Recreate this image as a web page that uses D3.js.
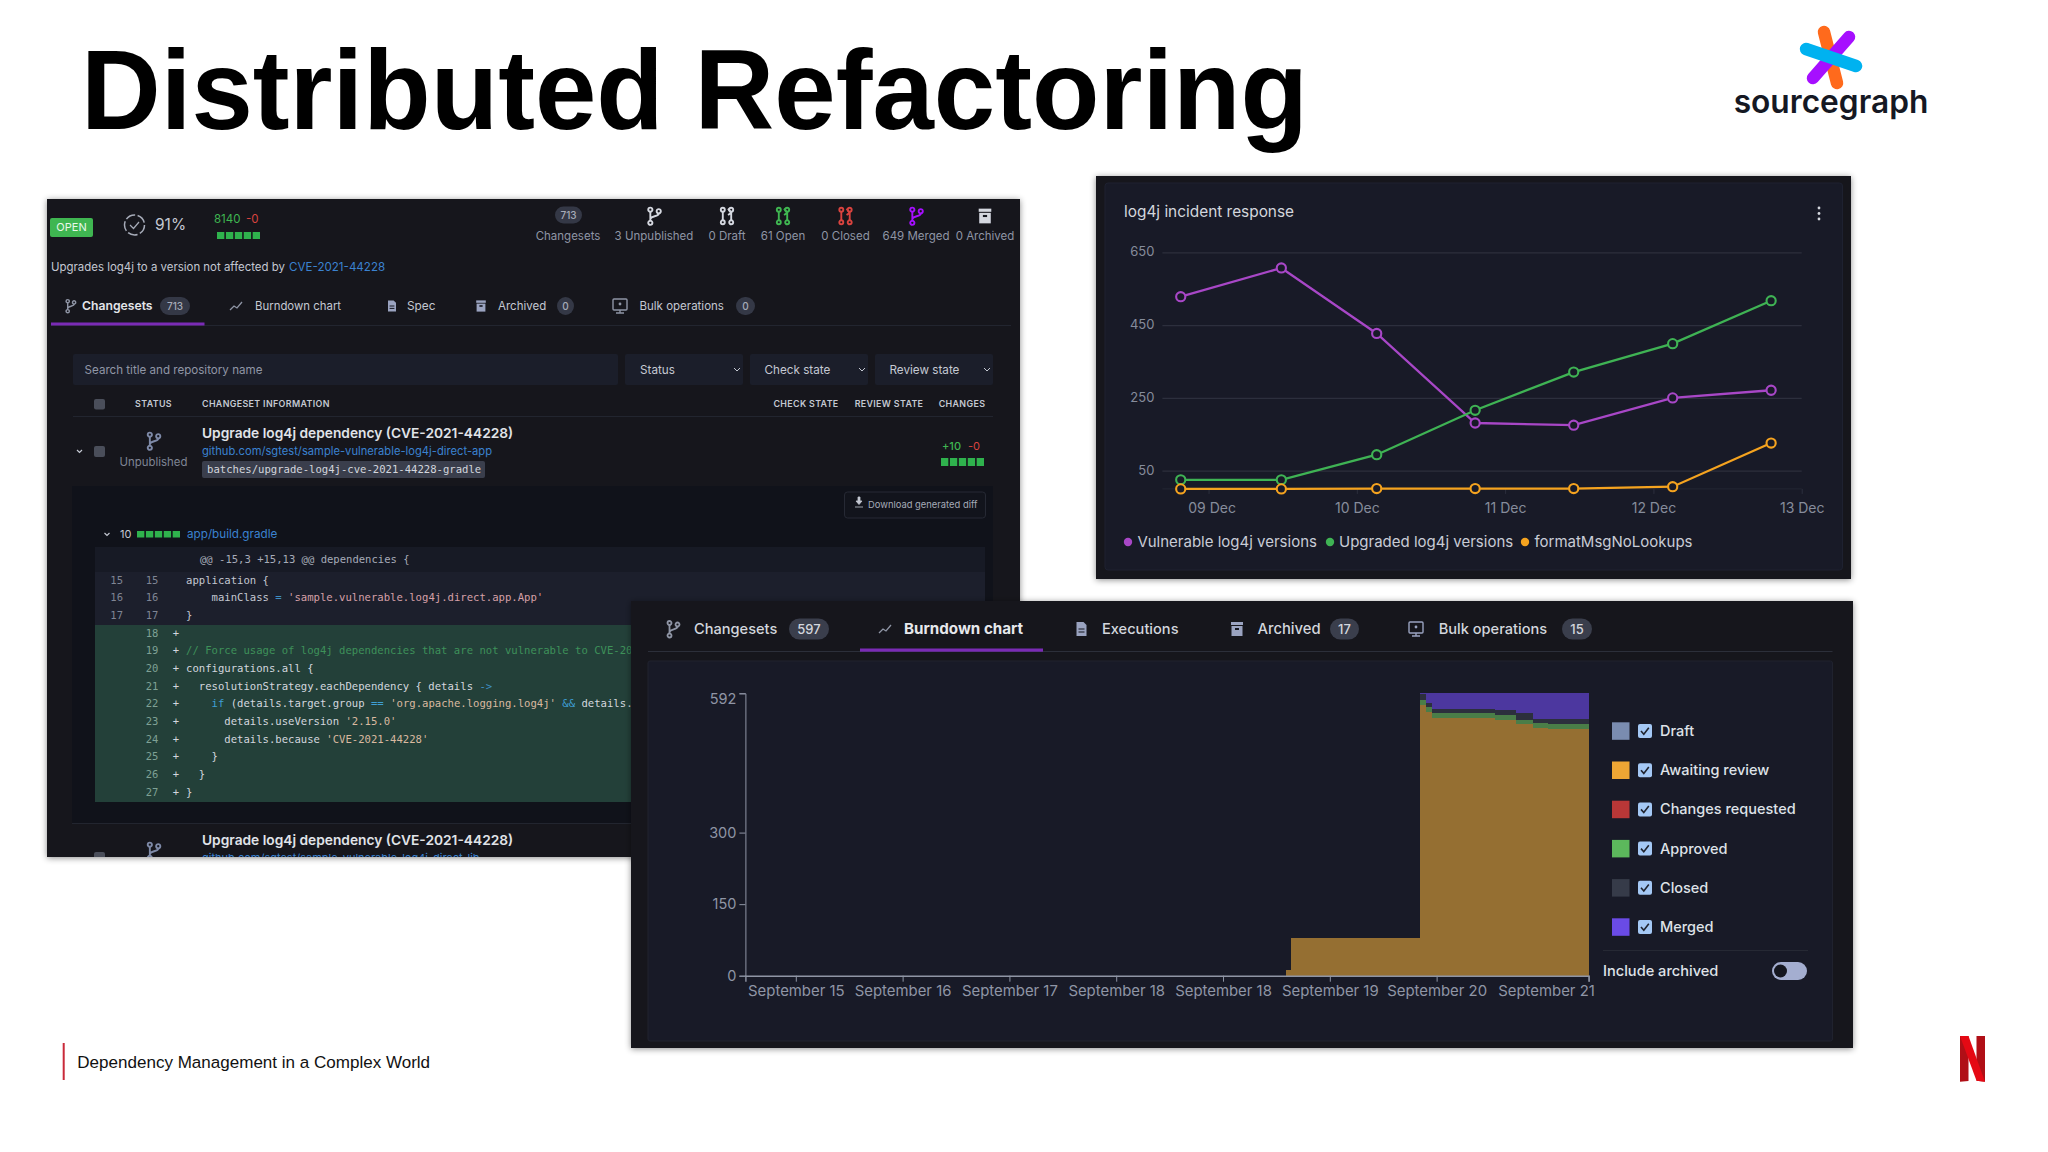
<!DOCTYPE html>
<html><head><meta charset="utf-8">
<style>html,body{margin:0;padding:0;background:#fff;}svg{display:block;}</style>
<script src="https://cdnjs.cloudflare.com/ajax/libs/d3/7.8.5/d3.min.js"></script>
</head><body><div id="c"></div>
<script>
// ---------- line chart data ----------
const incidentTimes = ["2021-12-08T19:30","2021-12-09T11:47","2021-12-10T03:13","2021-12-10T19:09","2021-12-11T11:06","2021-12-12T03:07","2021-12-12T19:03"];
const vulnerable = [528,607,427,181,175,250,271];
const upgraded   = [25,25,94,216,321,399,517];
const formatMsg  = [0,0,1,1,1,6,126];
const incidentYTicks = [50,250,450,650];
const incidentXTicks = ["2021-12-09","2021-12-10","2021-12-11","2021-12-12","2021-12-13"];
const incidentXLabels = ["09 Dec","10 Dec","11 Dec","12 Dec","13 Dec"];
const incidentNames = ["Vulnerable log4j versions","Upgraded log4j versions","formatMsgNoLookups"];
const incidentColors = ["#a847c7","#3fb354","#f5a31f"];

// ---------- burndown data (days after the first tick) ----------
const burnDays     = [-0.472,4.586,4.634,5.845,5.901,5.957,6.547,6.746,6.905,7.046,7.423];
const burnDraft    = [0,0,0,0,0,0,0,0,0,0,0];
const burnAwaiting = [0,12,80,567,553,540,537,527,520,518,518];
const burnChanges  = [0,0,0,0,0,0,0,0,0,0,0];
const burnApproved = [0,0,0,12,11,10,10,10,9,9,9];
const burnClosed   = [0,0,0,11,7,10,10,13,10,11,11];
const burnMerged   = [0,0,0,2,21,32,35,42,53,54,54];
const burnYTicks = [0,150,300,592];
const burnXTicks = [0,1,2,3,4,5,6,7.423];
const burnXLabels = ["September 15","September 16","September 17","September 18","September 18","September 19","September 20","September 21"];
const burnNames = ["Draft","Awaiting review","Changes requested","Approved","Closed","Merged"];
const burnLegendColors = ["#7a8cb0","#eea634","#b93737","#5cb85c","#363b49","#6a4be6"];
const burnAreaColors = ["#5d6a85","#956f32","#8a3030","#4a7d48","#2c2f3d","#4c379f"];

// ---------- UI labels ----------
const statNumbers = ["713"];
const statLabels = ["Changesets","3 Unpublished","0 Draft","61 Open","0 Closed","649 Merged","0 Archived"];
const statColors = ["#8f95a5","#8f95a5","#8f95a5","#8f95a5","#8f95a5","#8f95a5","#8f95a5"];
const filterLabels = ["Status","Check state","Review state"];
const codeRows = [
 ["15","15"," ",[["application {","#c4c8d2"]]],
 ["16","16"," ",[["    mainClass ","#c4c8d2"],["= ","#3f8fc4"],["'sample.vulnerable.log4j.direct.app.App'","#d6a0a8"]]],
 ["17","17"," ",[["}","#c4c8d2"]]],
 ["","18","+",[["","#c4c8d2"]]],
 ["","19","+",[["// Force usage of log4j dependencies that are not vulnerable to CVE-20","#3e9159"]]],
 ["","20","+",[["configurations.all {","#d3d7df"]]],
 ["","21","+",[["  resolutionStrategy.eachDependency { details ","#d3d7df"],["->","#3f8fc4"]]],
 ["","22","+",[["    ","#d3d7df"],["if","#3f9fd4"],[" (details.target.group ","#d3d7df"],["==","#3f9fd4"],[" 'org.apache.logging.log4j'","#d9b9a0"],[" && ","#3f9fd4"],["details.","#d3d7df"]]],
 ["","23","+",[["      details.useVersion ","#d3d7df"],["'2.15.0'","#d9b9a0"]]],
 ["","24","+",[["      details.because ","#d3d7df"],["'CVE-2021-44228'","#d9b9a0"]]],
 ["","25","+",[["    }","#d3d7df"]]],
 ["","26","+",[["  }","#d3d7df"]]],
 ["","27","+",[["}","#d3d7df"]]]
];

const W=2048,H=1152;
const INTER="Inter, 'Noto Sans', sans-serif", MONO="'DejaVu Sans Mono', monospace", HELV="'Liberation Sans', Arial, sans-serif";
const svg=d3.select("#c").append("svg").attr("width",W).attr("height",H).attr("viewBox",`0 0 ${W} ${H}`);
const defs=svg.append("defs");
const sh=defs.append("filter").attr("id","sh").attr("x","-3%").attr("y","-3%").attr("width","106%").attr("height","106%");
sh.append("feDropShadow").attr("dx",0).attr("dy",1).attr("stdDeviation",3).attr("flood-color","#000").attr("flood-opacity",0.45);
defs.append("clipPath").attr("id","leftClip").append("rect").attr("x",47).attr("y",199).attr("width",973).attr("height",658);

function T(g,x,y,s,o={}){
  const e=g.append("text").attr("x",x).attr("y",y).attr("dy","0.35em").text(s)
   .attr("font-family",o.f||INTER).attr("font-size",o.s||13).attr("font-weight",o.w||400)
   .attr("fill",o.c||"#c8ccd6").attr("text-anchor",o.a||"start").attr("xml:space","preserve").style("white-space","pre");
  if(o.ls) e.attr("letter-spacing",o.ls);
  return e;
}
function R(g,x,y,w,h,c,r=0,st=null){
  const e=g.append("rect").attr("x",x).attr("y",y).attr("width",w).attr("height",h).attr("fill",c).attr("rx",r);
  if(st) e.attr("stroke",st); return e;
}
function branchIcon(g,cx,cy,sc,col){
  const n=g.append("g").attr("transform",`translate(${cx},${cy}) scale(${sc})`).attr("fill","none").attr("stroke",col).attr("stroke-width",1.8);
  n.append("circle").attr("cx",-3.5).attr("cy",-6).attr("r",2);
  n.append("circle").attr("cx",-3.5).attr("cy",6.5).attr("r",2);
  n.append("circle").attr("cx",4.5).attr("cy",-4.5).attr("r",2);
  n.append("path").attr("d","M-3.5,-4V4.5M-3.5,3C-3,-0.5 4.5,1 4.5,-2.5");
}
function prIcon(g,cx,cy,sc,col){
  const n=g.append("g").attr("transform",`translate(${cx},${cy}) scale(${sc})`).attr("fill","none").attr("stroke",col).attr("stroke-width",1.8);
  [[-4,-6],[-4,6],[4,6],[4,-6]].forEach(p=>n.append("circle").attr("cx",p[0]).attr("cy",p[1]).attr("r",1.9));
  n.append("path").attr("d","M-4,-4V4M4,4V-4M4,-3L1,-7M4,-3L1,-1");
}
function trendIcon(g,cx,cy,col){
  g.append("path").attr("d",`M${cx-6},${cy+4}L${cx-2},${cy}L${cx+1},${cy+2}L${cx+6},${cy-4}`).attr("fill","none").attr("stroke",col).attr("stroke-width",1.3);
}
function fileIcon(g,cx,cy,col,s=1){
  g.append("path").attr("d",`M${cx-5*s},${cy-7*s}h${7*s}l${3*s},${3*s}v${11*s}h${-10*s}z`).attr("fill",col);
  g.append("path").attr("d",`M${cx-3*s},${cy}h${6*s}M${cx-3*s},${cy+3*s}h${6*s}`).attr("stroke","#14161f").attr("stroke-width",1);
}
function archiveIcon(g,cx,cy,col,s=1){
  R(g,cx-6*s,cy-7*s,12*s,3*s,col); R(g,cx-5.5*s,cy-3*s,11*s,10*s,col);
  R(g,cx-2*s,cy-1*s,4*s,2*s,"#14161f");
}
function bulkIcon(g,cx,cy,col){
  g.append("rect").attr("x",cx-7).attr("y",cy-7).attr("width",14).attr("height",11).attr("fill","none").attr("stroke",col).attr("stroke-width",1.4).attr("rx",1);
  g.append("path").attr("d",`M${cx},${cy+4}v3M${cx-4},${cy+7}h8`).attr("stroke",col).attr("stroke-width",1.4);
  g.append("circle").attr("cx",cx).attr("cy",cy-2).attr("r",1.4).attr("fill",col);
}
function badge(g,x0,x1,cy,h,s,fs,col="#3a3e4c",tc="#c8ccd6"){
  R(g,x0,cy-h/2,x1-x0,h,col,h/2);
  T(g,(x0+x1)/2,cy,s,{s:fs,a:"middle",c:tc,w:500});
}
function blocks(g,x0,x1,y,h,n=5,col="#2fb24d"){
  const gap=1.6,w=(x1-x0-gap*(n-1))/n;
  d3.range(n).forEach(i=>R(g,x0+i*(w+gap),y,w,h,col));
}

// ===== Slide title & footer =====
svg.append("text").attr("transform","translate(81,129) scale(1.004,1.035)").text("Distributed Refactoring").attr("font-family",HELV).attr("font-weight",700).attr("font-size",110).attr("fill","#000");
R(svg,62.7,1043,2,37,"#c92a3a");
svg.append("text").attr("x",77.3).attr("y",1068).text("Dependency Management in a Complex World").attr("font-family",HELV).attr("font-size",17.05).attr("fill","#111");

// sourcegraph logo
const lg=svg.append("g").attr("fill","none").attr("stroke-linecap","round").attr("stroke-width",12.5);
lg.append("line").attr("x1",1824).attr("y1",32).attr("x2",1837).attr("y2",83).attr("stroke","#ff6a1c");
lg.append("line").attr("x1",1849).attr("y1",37).attr("x2",1813).attr("y2",78).attr("stroke","#a60fff");
lg.append("line").attr("x1",1806).attr("y1",49).attr("x2",1856).attr("y2",66).attr("stroke","#00b2f0");
svg.append("text").attr("x",1831).attr("y",113).attr("text-anchor","middle").text("sourcegraph").attr("font-family",INTER).attr("font-weight",600).attr("font-size",31.7).attr("fill","#151823");
// netflix N
const nf=svg.append("g");
nf.append("path").attr("d","M1960,1036h8.5v45l-8.5,0.8z").attr("fill","#b00f16");
nf.append("path").attr("d","M1976.5,1036h8.5v45.8l-8.5,-1z").attr("fill","#b00f16");
nf.append("path").attr("d","M1960,1036h8.5l16.5,45.8l-8.5,-1z").attr("fill","#e50914");

// ===== Left screenshot =====
R(svg,47,199,973,658,"#14161f").attr("filter","url(#sh)");
const L=svg.append("g").attr("clip-path","url(#leftClip)");
R(L,50,218,43,19,"#3fb651",2);
T(L,71.5,227.5,"OPEN",{s:11,a:"middle",c:"#e8f8ea"});
L.append("circle").attr("cx",134.5).attr("cy",225).attr("r",10).attr("fill","none").attr("stroke","#a6abb8").attr("stroke-width",1.5).attr("stroke-dasharray","10 2.5");
L.append("path").attr("d","M130,225l3.5,3.5l5.5,-6.5").attr("fill","none").attr("stroke","#a6abb8").attr("stroke-width",1.2);
T(L,155,225,"91%",{s:15.5,c:"#c4c8d2"});
T(L,214,219,"8140",{s:11.5,c:"#3fb651"});
T(L,246,219,"-0",{s:11.5,c:"#d9433f"});
blocks(L,217,260,232,7);
badge(L,555,582,215,17,statNumbers[0],10,"#343846","#a6abb8");
const statX=[568,654,727,783,845.5,916,985];
statLabels.forEach((s,i)=>T(L,statX[i],236,s,{s:11.5,a:"middle",c:statColors[i]}));
branchIcon(L,654,216,1.05,"#d5d8e0");
prIcon(L,727,216,1.05,"#d5d8e0");
prIcon(L,783,216,1.05,"#3fb651");
prIcon(L,845.5,216,1.05,"#d9433f");
branchIcon(L,916,216,1.05,"#a60fff");
archiveIcon(L,985,216,"#d5d8e0",1.05);

T(L,51,267,"Upgrades log4j to a version not affected by ",{s:11.45,c:"#c4c8d2"});
T(L,289,267,"CVE-2021-44228",{s:11.6,c:"#3b82d0"});
// tabs
R(L,51,325,960,1,"#22252f");
R(L,51,322.5,153.5,3,"#7a2bb5");
branchIcon(L,70.5,306,0.8,"#8f95a5");
T(L,82,306,"Changesets",{s:12.2,w:600,c:"#e3e5ea"});
badge(L,160,190,306,18,"713",10,"#343846","#a6abb8");
trendIcon(L,236,306,"#8f95a5");
T(L,255,306,"Burndown chart",{s:11.4,c:"#c4c8d2"});
fileIcon(L,392,306,"#9aa3c0",0.8);
T(L,407,306,"Spec",{s:11.8,c:"#c4c8d2"});
archiveIcon(L,481,306,"#9aa3c0",0.8);
T(L,498,306,"Archived",{s:11.5,c:"#c4c8d2"});
badge(L,557,574,306,18,"0",10,"#343846","#a6abb8");
bulkIcon(L,620,306,"#8f95a5");
T(L,639.5,306,"Bulk operations",{s:11.5,c:"#c4c8d2"});
badge(L,736,755,306,18,"0",10,"#343846","#a6abb8");
// filters
R(L,73,354,545,31,"#1b1e2a",2);
T(L,84.6,370,"Search title and repository name",{s:11.6,c:"#9096a6"});
[[625,118,640],[750,118,764.5],[875,118,889.5]].forEach((p,i)=>{
  R(L,p[0],354,p[1],31,"#1b1e2a",2);
  T(L,p[2],370,filterLabels[i],{s:11.7,c:"#c4c8d2"});
  L.append("path").attr("d",`M${p[0]+p[1]-9},368l3,3l3,-3`).attr("fill","none").attr("stroke","#c4c8d2").attr("stroke-width",1);
});
// header
R(L,94,399,11,10.5,"#4a4e5a",2);
const hdr={s:8.9,w:600,c:"#c4c8d2",ls:0.35};
T(L,153.5,404,"STATUS",{...hdr,a:"middle"});
T(L,202,404,"CHANGESET INFORMATION",hdr);
T(L,806,404,"CHECK STATE",{...hdr,a:"middle"});
T(L,889,404,"REVIEW STATE",{...hdr,a:"middle"});
T(L,962,404,"CHANGES",{...hdr,a:"middle"});
R(L,73,416,920,1,"#22252f");
// row 1
L.append("path").attr("d","M77,450l2.5,2.5l2.5,-2.5").attr("fill","none").attr("stroke","#c4c8d2").attr("stroke-width",1.2);
R(L,94,446,11,11,"#4a4e5a",2);
branchIcon(L,153.5,441,1.05,"#7e8aa8");
T(L,153.5,462,"Unpublished",{s:11.4,a:"middle",c:"#7f8594"});
T(L,202,432.7,"Upgrade log4j dependency (CVE-2021-44228)",{s:13.75,w:600,c:"#e0e3e8"});
T(L,202,451,"github.com/sgtest/sample-vulnerable-log4j-direct-app",{s:11.2,c:"#3b82d0"});
R(L,202,461,283,17,"#3a3e4c",2);
T(L,207,469.5,"batches/upgrade-log4j-cve-2021-44228-gradle",{s:10.6,f:MONO,c:"#d3d6dd"});
T(L,942,446,"+10",{s:11,w:500,c:"#3fb651"});
T(L,968,446,"-0",{s:11,c:"#d9433f"});
blocks(L,941,984,458,8);
// expanded area
R(L,72,486,921,337,"#10121a");
R(L,844.5,492,141,26,"#12141c",3,"#262934");
L.append("path").attr("d","M856,501h2v-4h2v4h2l-3,3.5zM855,507h8").attr("fill","#c4c8d2").attr("stroke","#c4c8d2").attr("stroke-width",0.8);
T(L,868,505,"Download generated diff",{s:9.4,c:"#a6abb8"});
L.append("path").attr("d","M104.5,533l2.5,2.5l2.5,-2.5").attr("fill","none").attr("stroke","#c4c8d2").attr("stroke-width",1.2);
T(L,120,534,"10",{s:11,c:"#c4c8d2"});
blocks(L,137,180,531,6.5);
T(L,187,534,"app/build.gradle",{s:11.7,c:"#3b82d0"});
R(L,95,547,890,25,"#171a25");
R(L,95,572,890,53,"#1c1f2c");
R(L,95,625,890,177,"#234039");
T(L,200,559,"@@ -15,3 +15,13 @@ dependencies {",{s:10.55,f:MONO,c:"#a6abb8"});
const rowY=d3.scaleLinear().domain([0,12]).range([580,792]);
codeRows.forEach((r,i)=>{
  const y=rowY(i);
  if(r[0])T(L,116.7,y,r[0],{s:10.5,f:MONO,a:"middle",c:"#7f8594"});
  T(L,152,y,r[1],{s:10.5,f:MONO,a:"middle",c:r[0]?"#7f8594":"#7fa195"});
  T(L,176,y,r[2],{s:10.5,f:MONO,a:"middle",c:"#d3d7df"});
  const t=L.append("text").attr("x",186).attr("y",y).attr("dy","0.35em").attr("font-family",MONO).attr("font-size",10.6).attr("xml:space","preserve").style("white-space","pre");
  r[3].forEach(p=>t.append("tspan").text(p[0]).attr("fill",p[1]));
});
R(L,72,823,921,1,"#22252f");
T(L,202,840,"Upgrade log4j dependency (CVE-2021-44228)",{s:13.75,w:600,c:"#e0e3e8"});
branchIcon(L,153.5,851,1.05,"#7e8aa8");
T(L,202,858,"github.com/sgtest/sample-vulnerable-log4j-direct-lib",{s:11,c:"#3b82d0"});
R(L,94,852,11,10,"#4a4e5a",2);

// ===== Incident panel =====
R(svg,1096,176,755,403,"#14161f").attr("filter","url(#sh)");
R(svg,1105,183,737.5,387,"#181a27",3,"#1e2130");
const lineG=svg.append("g");
T(lineG,1124,212,"log4j incident response",{s:15.4,c:"#d3d6dd"});
[208,213.5,219].forEach(y=>lineG.append("circle").attr("cx",1819).attr("cy",y).attr("r",1.4).attr("fill","#d3d6dd"));
const parseT=d3.timeParse("%Y-%m-%dT%H:%M"), parseD=d3.timeParse("%Y-%m-%d");
const incTimes=incidentTimes.map(parseT);
const xInc=d3.scaleTime().domain([parseT("2021-12-08T16:32"),parseD("2021-12-13")]).range([1162.4,1801.7]);
const yInc=d3.scaleLinear().domain([0,650]).range([488.9,252.3]);
const gy=lineG.append("g").attr("transform","translate(1162.4,0)")
  .call(d3.axisLeft(yInc).tickValues(incidentYTicks).tickSize(-639.3).tickPadding(8));
gy.select(".domain").remove();
gy.selectAll(".tick line").attr("stroke","#2c2f3d").attr("stroke-width",1.2);
gy.selectAll(".tick text").attr("font-family",INTER).attr("font-size",13).attr("fill","#868c9b").attr("dy","0.27em");
const gx=lineG.append("g").attr("transform","translate(0,488.9)")
  .call(d3.axisBottom(xInc).tickValues(incidentXTicks.map(parseD)).tickSize(5).tickPadding(9).tickFormat((d,i)=>incidentXLabels[i]));
gx.select(".domain").attr("stroke","#242733").attr("d","M1162.4,0H1801.7");
gx.selectAll(".tick line").attr("stroke","#2c2f3d");
gx.selectAll(".tick text").attr("font-family",INTER).attr("font-size",14).attr("fill","#868c9b").attr("dx",(d,i)=>i==0?3:0);
const lineGen=d3.line().x((d,i)=>xInc(incTimes[i])).y(d=>yInc(d));
[vulnerable,upgraded,formatMsg].forEach((ser,k)=>{
  lineG.append("path").attr("d",lineGen(ser)).attr("fill","none").attr("stroke",incidentColors[k]).attr("stroke-width",2.3);
  lineG.selectAll(null).data(ser).enter().append("circle")
    .attr("cx",(d,i)=>xInc(incTimes[i])).attr("cy",d=>yInc(d)).attr("r",4.6)
    .attr("fill","#181a27").attr("stroke",incidentColors[k]).attr("stroke-width",2.1);
});
[[1128,1137.4],[1330,1339],[1525,1534.4]].forEach((p,i)=>{
  lineG.append("circle").attr("cx",p[0]).attr("cy",542).attr("r",4.2).attr("fill",incidentColors[i]);
  T(lineG,p[1],542,incidentNames[i],{s:15,c:"#c8ccd6"});
});

// ===== Burndown panel =====
R(svg,631,601,1222,447,"#13151e").attr("filter","url(#sh)");
const B=svg.append("g");
R(B,648,651,1184.5,1,"#2c2f3a");
R(B,860,648.5,183,3.2,"#7a2bb5");
const tabCol="#d3d6dd";
branchIcon(B,673,629,1,"#8f95a5");
T(B,694,629,"Changesets",{s:14.6,c:tabCol,w:500});
badge(B,789,829,629,21,"597",13,"#3a3e4c","#d3d6dd");
trendIcon(B,885,629,"#8f95a5");
T(B,904,629,"Burndown chart",{s:15.2,w:700,c:"#e6e8ec"});
fileIcon(B,1081.5,629,"#9aa3c0",1);
T(B,1102,629,"Executions",{s:14.6,c:tabCol,w:500});
archiveIcon(B,1237,629,"#9aa3c0",1);
T(B,1257.5,629,"Archived",{s:14.8,c:tabCol,w:500});
badge(B,1330,1359,629,21,"17",13,"#3a3e4c","#d3d6dd");
bulkIcon(B,1416,629,"#9aa3c0");
T(B,1438.7,629,"Bulk operations",{s:14.6,c:tabCol,w:500});
badge(B,1562,1592,629,21,"15",13,"#3a3e4c","#d3d6dd");
R(B,648,661,1184.5,380,"#181a27",2,"#20222e");

const xB=d3.scaleLinear().domain([-0.472,7.423]).range([745.4,1588.6]);
const yB=d3.scaleLinear().domain([0,592]).range([975.7,693.3]);
const burnKeys=["draft","awaiting","changes","approved","closed","merged"];
const burnArrays=[burnDraft,burnAwaiting,burnChanges,burnApproved,burnClosed,burnMerged];
const burnRows=burnDays.map((d,i)=>{const o={day:d};burnKeys.forEach((k,j)=>o[k]=burnArrays[j][i]);return o;});
const stack=d3.stack().keys(burnKeys)(burnRows);
const area=d3.area().curve(d3.curveStepAfter).x(d=>xB(d.data.day)).y0(d=>yB(d[0])).y1(d=>yB(d[1]));
B.selectAll(null).data(stack).enter().append("path").attr("d",area).attr("fill",(d,i)=>burnAreaColors[i]).attr("shape-rendering","crispEdges");
const gyB=B.append("g").attr("transform","translate(745.4,0)").call(d3.axisLeft(yB).tickValues(burnYTicks).tickSize(6).tickPadding(3));
gyB.select(".domain").attr("stroke","#8f95a5");
gyB.selectAll(".tick line").attr("stroke","#8f95a5");
gyB.selectAll(".tick text").attr("font-family",INTER).attr("font-size",14.5).attr("fill","#8f95a5")
  .attr("dy",(d)=>d==592?"0.68em":"0.32em");
const gxB=B.append("g").attr("transform","translate(0,975.7)").call(d3.axisBottom(xB).tickValues(burnXTicks).tickSize(6).tickPadding(4).tickFormat((d,i)=>burnXLabels[i]));
gxB.select(".domain").attr("stroke","#8f95a5").attr("stroke-width",1.4);
gxB.selectAll(".tick line").attr("stroke","#8f95a5");
gxB.selectAll(".tick text").attr("font-family",INTER).attr("font-size",14.9).attr("fill","#8f95a5").attr("dx",(d,i)=>i==7?-42.6:0);

// legend
const rowLeg=d3.scaleLinear().domain([0,5]).range([731,927]);
burnNames.forEach((n,i)=>{
  const y=rowLeg(i);
  R(B,1612,y-8.7,17.5,17.5,burnLegendColors[i]);
  R(B,1638,y-7,14,14,"#a4c8f5",2);
  B.append("path").attr("d",`M${1641},${y}l2.8,3.2l5,-6.5`).attr("fill","none").attr("stroke","#20242f").attr("stroke-width",1.6);
  T(B,1660,y,n,{s:14.5,w:500,c:"#dfe2e8"});
});
R(B,1603,950,205,1,"#262934");
T(B,1603,970.5,"Include archived",{s:14.6,w:500,c:"#dfe2e8"});
R(B,1772,962,35,18,"#a4aed0",9);
B.append("circle").attr("cx",1780.5).attr("cy",971).attr("r",6.5).attr("fill","#14161f");
</script></body></html>
